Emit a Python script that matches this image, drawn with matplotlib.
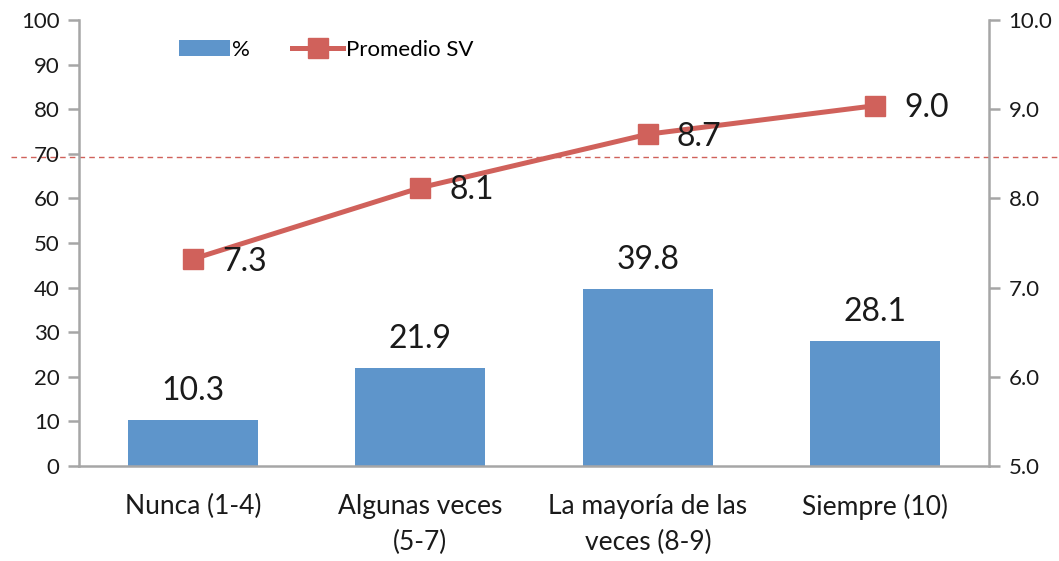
import numpy as np
import matplotlib
matplotlib.use("Agg")
import matplotlib.pyplot as plt

plt.rcParams['font.family'] = ['Lato', 'DejaVu Sans']

# datos
categorias = ["Nunca (1-4)", "Algunas veces\n(5-7)", "La mayoría de las\nveces (8-9)", "Siempre (10)"]
porcentaje = [10.3, 21.9, 39.8, 28.1]
promedio_sv = [7.32, 8.12, 8.72, 9.04]
linea_ref = 69.3  # línea discontinua (eje izquierdo)

azul = "#5E95CB"
rojo = "#D0615B"
gris = "#A6A6A6"
texto = "#1A1A1A"

fig = plt.figure(figsize=(10.59, 5.61), dpi=100)
ax = fig.add_axes([0.0746, 0.1693, 0.8594, 0.795])
ax2 = ax.twinx()

x = np.arange(len(categorias))
barras = ax.bar(x, porcentaje, width=0.57, color=azul, label="%", zorder=2)
for xi, v in zip(x, porcentaje):
    ax.annotate(f"{v:.1f}", (xi, v), xytext=(0, 10), textcoords="offset points",
                ha="center", va="bottom", fontsize=23, color=texto)

linea, = ax2.plot(x, promedio_sv, color=rojo, lw=3.6, marker="s", markersize=14,
                  label="Promedio SV", zorder=3)
for xi, v in zip(x, promedio_sv):
    ax2.annotate(f"{v:.1f}", (xi, v), xytext=(21, -2), textcoords="offset points",
                 ha="left", va="center", fontsize=23, color=texto)

# línea discontinua de referencia que sale de los ejes
ax.plot([-0.075, 1.08], [linea_ref, linea_ref], transform=ax.get_yaxis_transform(),
        color=rojo, lw=1.0, ls=(0, (4, 3)), clip_on=False, zorder=1)

ax.set_xlim(-0.5, 3.5)
ax.set_ylim(0, 100)
ax2.set_ylim(5.0, 10.0)
ax.set_yticks(range(0, 101, 10))
ax2.set_yticks(np.arange(5.0, 10.01, 1.0))
ax2.set_yticklabels([f"{t:.1f}" for t in np.arange(5.0, 10.01, 1.0)])
ax.set_xticks(x)
ax.set_xticklabels(categorias, fontsize=19, color=texto, linespacing=1.55)

for a in (ax, ax2):
    a.spines["top"].set_visible(False)
    for s in ("left", "right", "bottom"):
        a.spines[s].set_color(gris)
        a.spines[s].set_linewidth(1.8)
ax.spines["right"].set_visible(False)
ax2.spines["left"].set_visible(False)
ax2.spines["bottom"].set_visible(False)

ax.tick_params(axis="y", length=8, width=1.8, color=gris, labelsize=16, labelcolor=texto, pad=6)
ax2.tick_params(axis="y", length=8, width=1.8, color=gris, labelsize=16, labelcolor=texto, pad=6)
ax.tick_params(axis="x", length=0, pad=20)

ax.legend([barras, linea], ["%", "Promedio SV"], loc="upper left", bbox_to_anchor=(0.095, 0.985),
          ncol=2, frameon=False, fontsize=16, handlelength=2.3, handletextpad=0.1,
          columnspacing=1.9, borderaxespad=0.2)

fig.savefig("out.png", dpi=100)
